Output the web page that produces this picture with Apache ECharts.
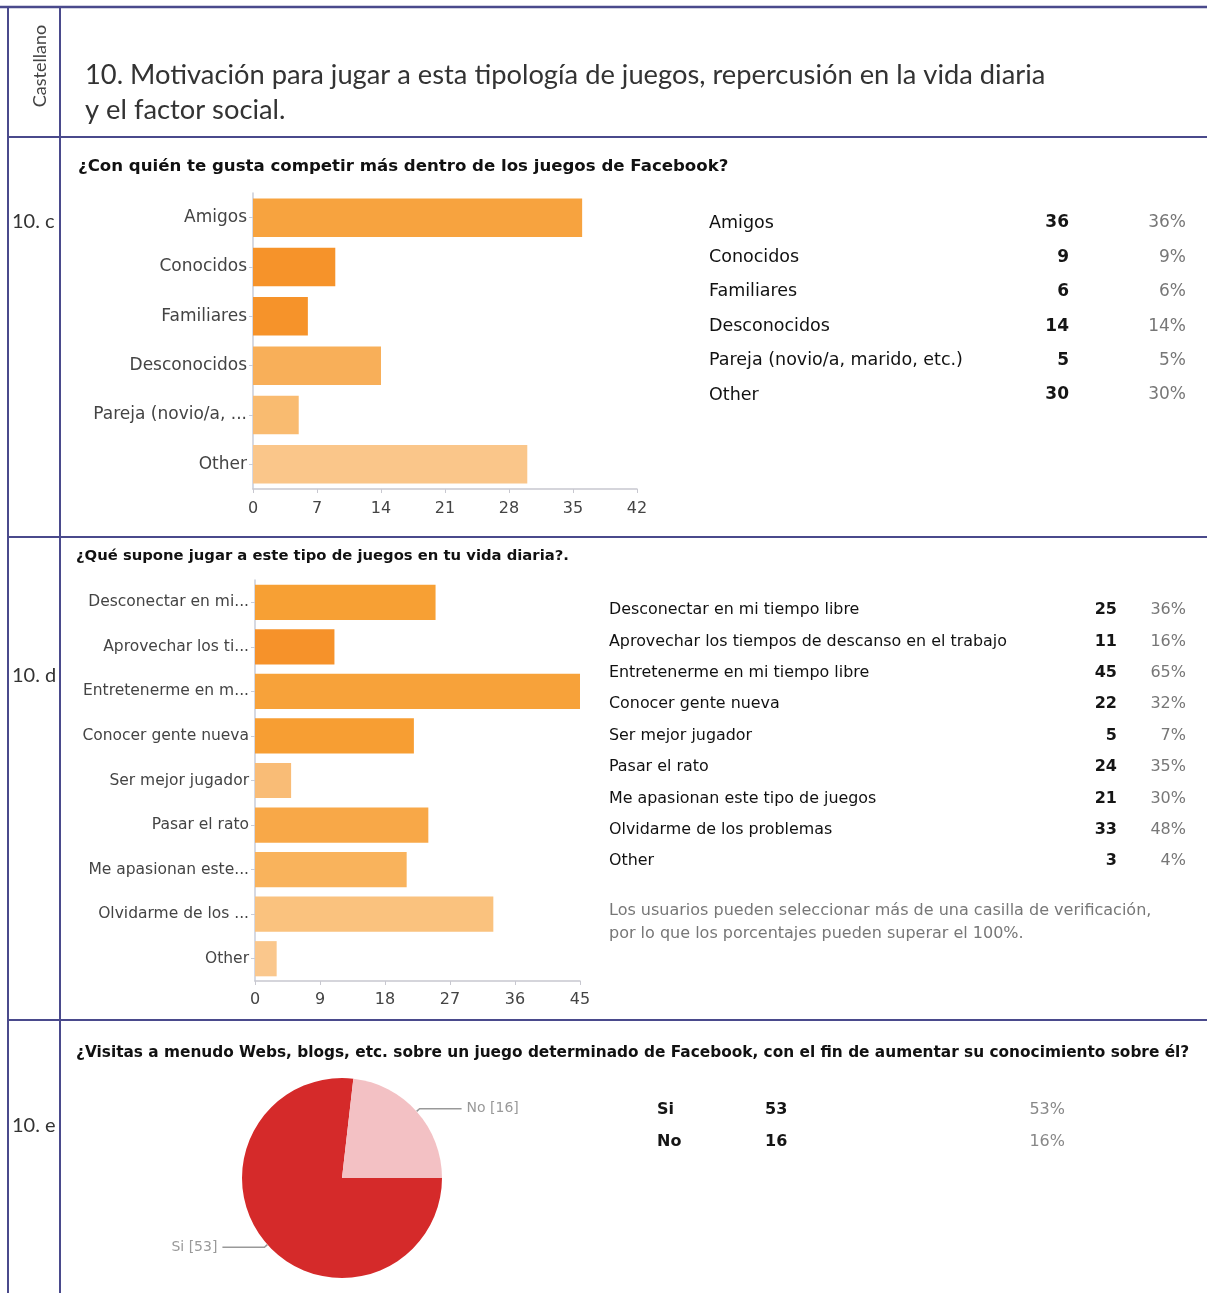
<!DOCTYPE html>
<html>
<head>
<meta charset="utf-8">
<script src="https://cdn.jsdelivr.net/npm/echarts@6/dist/echarts.min.js"></script>
<style>
html,body{margin:0;padding:0;background:#fff;}
#c{width:1207px;height:1293px;}
</style>
</head>
<body>
<div id="c"></div>
<script>
// ---------- DATA ----------
const title1 = '¿Con quién te gusta competir más dentro de los juegos de Facebook?';
const cats1 = ['Amigos', 'Conocidos', 'Familiares', 'Desconocidos', 'Pareja (novio/a, marido, etc.)', 'Other'];
const axisLabels1 = ['Amigos', 'Conocidos', 'Familiares', 'Desconocidos', 'Pareja (novio/a, ...', 'Other'];
const values1 = [36, 9, 6, 14, 5, 30];
const pcts1 = ['36%', '9%', '6%', '14%', '5%', '30%'];
const ticks1 = { min: 0, max: 42, interval: 7 };

const title2 = '¿Qué supone jugar a este tipo de juegos en tu vida diaria?.';
const cats2 = ['Desconectar en mi tiempo libre', 'Aprovechar los tiempos de descanso en el trabajo', 'Entretenerme en mi tiempo libre', 'Conocer gente nueva', 'Ser mejor jugador', 'Pasar el rato', 'Me apasionan este tipo de juegos', 'Olvidarme de los problemas', 'Other'];
const axisLabels2 = ['Desconectar en mi...', 'Aprovechar los ti...', 'Entretenerme en m...', 'Conocer gente nueva', 'Ser mejor jugador', 'Pasar el rato', 'Me apasionan este...', 'Olvidarme de los ...', 'Other'];
const values2 = [25, 11, 45, 22, 5, 24, 21, 33, 3];
const pcts2 = ['36%', '16%', '65%', '32%', '7%', '35%', '30%', '48%', '4%'];
const ticks2 = { min: 0, max: 45, interval: 9 };
const note2 = ['Los usuarios pueden seleccionar más de una casilla de verificación,', 'por lo que los porcentajes pueden superar el 100%.'];

const title3 = '¿Visitas a menudo Webs, blogs, etc. sobre un juego determinado de Facebook, con el fin de aumentar su conocimiento sobre él?';
const cats3 = ['Si', 'No'];
const values3 = [53, 16];
const pcts3 = ['53%', '16%'];

const headerSide = 'Castellano';
const headerTitle = ['10. Motivación para jugar a esta tipología de juegos, repercusión en la vida diaria', 'y el factor social.'];
const sectionLabels = ['10. c', '10. d', '10. e'];

// ---------- STYLES ----------
const colors1 = ['#F7A33F', '#F6932A', '#F6932A', '#F8AF59', '#F9BB70', '#FAC68A'];
const colors2 = ['#F7A034', '#F6922A', '#F7A23A', '#F79E33', '#F9BC76', '#F8A848', '#F9B35C', '#FAC27E', '#FAC78C'];
const colors3 = ['#D52A2A', '#F3C1C4'];
const BORDER = '#4a4a8c';
const SANS = '"DejaVu Sans", "Liberation Sans", Arial, sans-serif';
const CAL = 'Lato, "Open Sans", sans-serif';

const chart = echarts.init(document.getElementById('c'), null, { renderer: 'canvas' });

function barAxes(gridIndex, labels, ticks, labelSize, tickSize, tickMargin) {
  return {
    x: {
      type: 'value', gridIndex: gridIndex, min: ticks.min, max: ticks.max, interval: ticks.interval,
      axisLine: { show: true, lineStyle: { color: '#c8c8d0', width: 1.5 } },
      axisTick: { show: true, length: 4, lineStyle: { color: '#c8c8d0' } },
      splitLine: { show: false },
      axisLabel: { color: '#444', fontFamily: SANS, fontSize: tickSize, margin: tickMargin }
    },
    y: {
      type: 'category', gridIndex: gridIndex, data: labels, inverse: true,
      axisLine: { show: true, lineStyle: { color: '#c8ccd8', width: 1.5 } },
      axisTick: { show: true, alignWithLabel: true, length: 4, lineStyle: { color: '#c8ccd8' } },
      axisLabel: { color: '#444', fontFamily: SANS, fontSize: labelSize, margin: 6 }
    }
  };
}
const a1 = barAxes(0, axisLabels1, ticks1, 17, 16, 12);
const a2 = barAxes(1, axisLabels2, ticks2, 15.5, 16, 11);

const graphics = [];
function line(x1, y1, x2, y2, w, c) {
  graphics.push({ type: 'line', shape: { x1, y1, x2, y2 }, style: { stroke: c || BORDER, lineWidth: w || 2 }, z: 100 });
}
function text(x, y, t, font, fill, align, extra) {
  graphics.push(Object.assign({
    type: 'text', x: x, y: y,
    style: { text: t, font: font, fill: fill, textAlign: align || 'left', textVerticalAlign: 'middle', align: align || 'left', verticalAlign: 'middle' },
    z: 100
  }, extra || {}));
}

// borders
line(0, 7, 1207, 7, 2.5);
line(8, 7, 8, 1293, 2);
line(60, 7, 60, 1293, 2);
line(8, 137, 1207, 137, 2);
line(8, 537, 1207, 537, 2);
line(8, 1020, 1207, 1020, 2);

// header
text(40, 66, headerSide, '18px ' + CAL, '#444', 'center', { rotation: Math.PI / 2 });
text(85, 75, headerTitle[0], '27.3px ' + CAL, '#333');
text(85, 110, headerTitle[1], '27.3px ' + CAL, '#333');

// section labels
text(12, 222, sectionLabels[0], '20px ' + CAL, '#333');
text(12, 676, sectionLabels[1], '20px ' + CAL, '#333');
text(12, 1126, sectionLabels[2], '20px ' + CAL, '#333');

// chart titles
text(78, 167, title1, 'bold 16.6px ' + SANS, '#111');
text(76, 556, title2, 'bold 14.8px ' + SANS, '#111');
text(76, 1053, title3, 'bold 15.35px ' + SANS, '#111');

// table 1
cats1.forEach(function (c, i) {
  const y = 223 + i * 34.4;
  text(709, y, c, '17.5px ' + SANS, '#111');
  text(1069, y, String(values1[i]), 'bold 17px ' + SANS, '#151515', 'right');
  text(1186, y, pcts1[i], '17px ' + SANS, '#777', 'right');
});

// table 2
cats2.forEach(function (c, i) {
  const y = 610 + i * 31.4;
  text(609, y, c, '15.9px ' + SANS, '#111');
  text(1117, y, String(values2[i]), 'bold 16px ' + SANS, '#151515', 'right');
  text(1186, y, pcts2[i], '16px ' + SANS, '#777', 'right');
});
text(609, 911, note2[0], '16px ' + SANS, '#777');
text(609, 934, note2[1], '16px ' + SANS, '#777');

// table 3
cats3.forEach(function (c, i) {
  const y = 1110 + i * 32;
  text(657, y, c, 'bold 16px ' + SANS, '#151515');
  text(765, y, String(values3[i]), 'bold 16px ' + SANS, '#151515');
  text(1065, y, pcts3[i], '16px ' + SANS, '#888', 'right');
});

const option = {
  backgroundColor: '#ffffff',
  animation: false,
  grid: [
    { left: 253, top: 193, width: 384, height: 296, containLabel: false },
    { left: 255, top: 580, width: 325, height: 401, containLabel: false }
  ],
  xAxis: [a1.x, a2.x],
  yAxis: [a1.y, a2.y],
  series: [
    {
      type: 'bar', xAxisIndex: 0, yAxisIndex: 0, barCategoryGap: '22%',
      data: values1.map(function (v, i) { return { value: v, itemStyle: { color: colors1[i] } }; })
    },
    {
      type: 'bar', xAxisIndex: 1, yAxisIndex: 1, barCategoryGap: '21%',
      data: values2.map(function (v, i) { return { value: v, itemStyle: { color: colors2[i] } }; })
    },
    {
      type: 'pie', center: [342, 1178], radius: 100, startAngle: 0, clockwise: true,
      data: cats3.map(function (c, i) { return { name: c, value: values3[i], itemStyle: { color: colors3[i] } }; }),
      label: { show: true, formatter: '{b} [{c}]', color: '#999', fontFamily: SANS, fontSize: 14 },
      labelLine: { show: true, length: 4, length2: 42, lineStyle: { color: '#999', width: 1.5 } },
      emphasis: { disabled: true }
    }
  ],
  graphic: graphics
};
chart.setOption(option);
</script>
</body>
</html>
